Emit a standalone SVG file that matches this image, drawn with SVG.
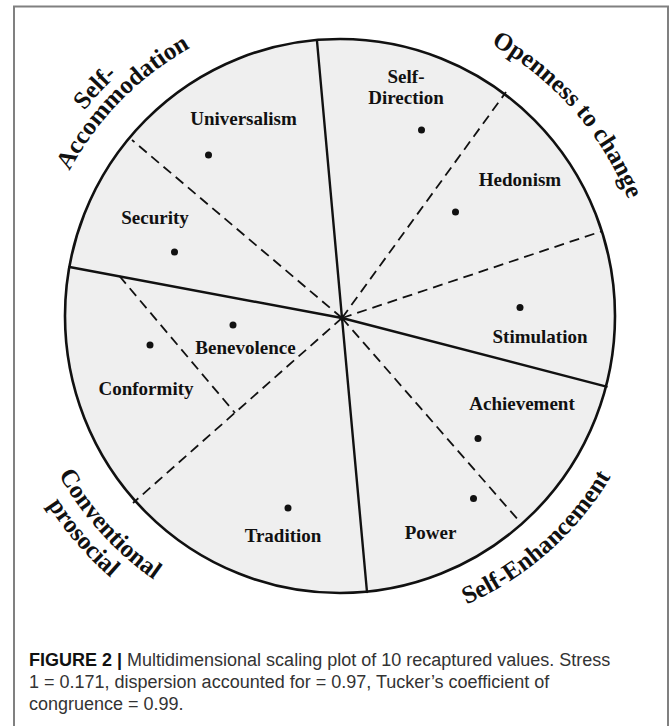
<svg xmlns="http://www.w3.org/2000/svg" width="672" height="726" viewBox="0 0 672 726">
<style>
.lbl{font-family:"Liberation Serif","Times New Roman",serif;font-weight:bold;font-size:19px;fill:#111;text-anchor:middle}
.big{font-family:"Liberation Serif","Times New Roman",serif;font-weight:bold;font-size:25px;fill:#111}
.solid{stroke:#111;stroke-width:2.4;fill:none;stroke-linecap:round}
.dash{stroke:#111;stroke-width:1.8;fill:none;stroke-dasharray:10 6}
.dot{fill:#111}
.cap{font-family:"Liberation Sans",Arial,sans-serif;font-size:18px;fill:#333}
.capb{font-weight:bold;fill:#111}
</style>
<defs>
<path id="arcSelf" d="M12.5,298.9 A328,328 0 0 1 300,-9.5"/>
<path id="arcAccom" d="M33.9,291.9 A307,307 0 0 1 310.6,10.4"/>
<path id="arcOpen" d="M386,8.4 A311,311 0 0 1 650.9,307.9"/>
<path id="arcEnh" d="M348.2,630.9 A315,315 0 0 0 651.5,362.6"/>
<path id="arcConv" d="M17.2,327.8 A323,323 0 0 0 295.6,635.9"/>
<path id="arcPro" d="M-8,320.8 A348,348 0 0 0 284.4,659.6"/>
</defs>
<rect x="14" y="6.5" width="654" height="740" fill="#fff" stroke="#808080" stroke-width="2"/>
<g id="circle">
<ellipse cx="340" cy="316" rx="275" ry="277" fill="#efefef" stroke="#111" stroke-width="2.6"/>
</g>
<g id="connectors">
<line class="solid" x1="342" y1="318" x2="317" y2="41"/>
<line class="solid" x1="342" y1="318" x2="367" y2="592"/>
<line class="solid" x1="342" y1="318" x2="69.5" y2="267"/>
<line class="solid" x1="342" y1="318" x2="606.5" y2="386.6"/>
<line class="dash" x1="342" y1="318" x2="132" y2="140"/>
<line class="dash" x1="342" y1="318" x2="506" y2="92"/>
<line class="dash" x1="342" y1="318" x2="601" y2="231.5"/>
<line class="dash" x1="342" y1="318" x2="133" y2="503"/>
<line class="dash" x1="342" y1="318" x2="520" y2="522"/>
<line class="dash" x1="119.4" y1="276" x2="235" y2="413"/>
<circle cx="342" cy="318" r="2.5" fill="#111"/>
</g>
<g id="self-direction"><text class="lbl" x="406" y="82.5">Self-</text><text class="lbl" x="406" y="103.5">Direction</text><circle class="dot" cx="421.5" cy="130" r="3.5"/></g>
<g id="universalism"><text class="lbl" x="243.5" y="124.5">Universalism</text><circle class="dot" cx="208.5" cy="155" r="3.5"/></g>
<g id="hedonism"><text class="lbl" x="520" y="186">Hedonism</text><circle class="dot" cx="455.5" cy="212" r="3.5"/></g>
<g id="security"><text class="lbl" x="155" y="224">Security</text><circle class="dot" cx="174.5" cy="252" r="3.5"/></g>
<g id="stimulation"><text class="lbl" x="540" y="343">Stimulation</text><circle class="dot" cx="520" cy="307.5" r="3.5"/></g>
<g id="benevolence"><text class="lbl" x="245.5" y="353.5">Benevolence</text><circle class="dot" cx="233" cy="325" r="3.5"/></g>
<g id="conformity"><text class="lbl" x="146" y="394.5">Conformity</text><circle class="dot" cx="150" cy="345" r="3.5"/></g>
<g id="achievement"><text class="lbl" x="522" y="409.5">Achievement</text><circle class="dot" cx="478" cy="438.5" r="3.5"/></g>
<g id="power"><text class="lbl" x="430.5" y="539">Power</text><circle class="dot" cx="473.5" cy="498.5" r="3.5"/></g>
<g id="tradition"><text class="lbl" x="283" y="542">Tradition</text><circle class="dot" cx="288" cy="508" r="3.5"/></g>
<g id="self-accommodation">
<text class="big"><textPath href="#arcSelf" startOffset="50%" text-anchor="middle">Self-</textPath></text>
<text class="big"><textPath href="#arcAccom" startOffset="50%" text-anchor="middle">Accommodation</textPath></text>
</g>
<g id="openness-to-change">
<text class="big"><textPath href="#arcOpen" startOffset="50%" text-anchor="middle">Openness to change</textPath></text>
</g>
<g id="self-enhancement">
<text class="big"><textPath href="#arcEnh" startOffset="50%" text-anchor="middle">Self-Enhancement</textPath></text>
</g>
<g id="conventional-prosocial">
<text class="big"><textPath href="#arcConv" startOffset="50%" text-anchor="middle">Conventional</textPath></text>
<text class="big"><textPath href="#arcPro" startOffset="50%" text-anchor="middle">prosocial</textPath></text>
</g>
<g id="caption">
<text class="cap" x="29" y="666"><tspan class="capb">FIGURE 2 |</tspan> Multidimensional scaling plot of 10 recaptured values. Stress</text>
<text class="cap" x="29" y="688">1 = 0.171, dispersion accounted for = 0.97, Tucker’s coefficient of</text>
<text class="cap" x="29" y="710">congruence = 0.99.</text>
</g>
</svg>
